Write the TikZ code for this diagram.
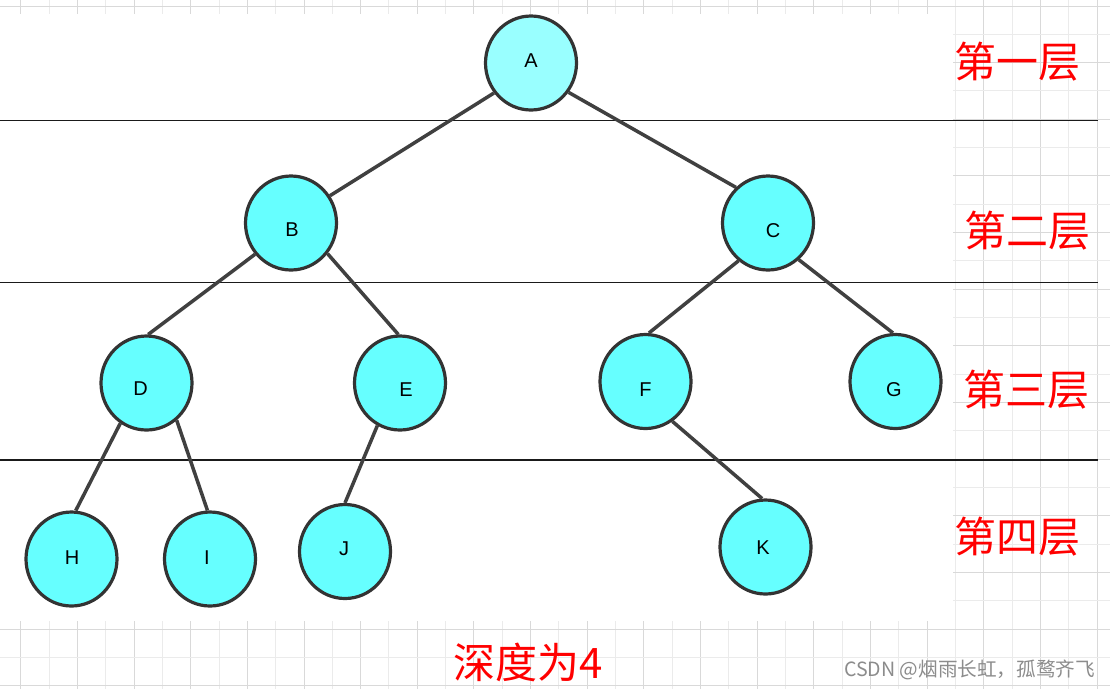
\documentclass[tikz,border=0pt]{standalone}
\usepackage{fontspec}
\setmainfont{Liberation Sans}
\newfontfamily\cjk{Noto Sans CJK SC}
\usetikzlibrary{shapes.geometric}
\definecolor{nodefill}{HTML}{66FFFF}
\definecolor{rootfill}{HTML}{99FFFF}
\definecolor{nodeline}{HTML}{333333}
\definecolor{edgecol}{HTML}{404040}
\definecolor{gridmajor}{HTML}{D9D9D9}
\definecolor{gridminor}{HTML}{EBEBEB}
\definecolor{levelcol}{HTML}{1A1A1A}
\definecolor{wmgray}{HTML}{8C8C8C}
\begin{document}
\begin{tikzpicture}[x=1pt,y=-1pt,
  treenode/.style={ellipse, draw=nodeline, line width=3.2pt, fill=nodefill,
    minimum width=91pt, minimum height=94pt, inner sep=0pt},
  rootnode/.style={treenode, fill=rootfill},
  letter/.style={font=\fontsize{20}{20}\selectfont, text=black, inner sep=0pt},
  edge/.style={draw=edgecol, line width=3.5pt},
  levelline/.style={draw=levelcol, line width=1.1pt},
  levellabel/.style={text=red, font=\cjk\fontsize{42}{42}\selectfont, inner sep=0pt},
  watermark/.style={text=wmgray, font=\cjk\fontsize{19.6}{19.6}\selectfont, inner sep=0pt}
]
\useasboundingbox (0,0) rectangle (1110,689);
\fill[white] (0,0) rectangle (1110,689);
% grid paper
\foreach \k in {0,...,38}{
  \pgfmathsetmacro\gx{20.7+28.33*\k}
  \ifodd\k\def\gc{gridminor}\else\def\gc{gridmajor}\fi
  \draw[color=\gc, line width=1pt] (\gx,0) -- (\gx,689);
}
\foreach \k in {0,...,24}{
  \pgfmathsetmacro\gy{6+28.33*\k}
  \ifodd\k\def\gc{gridminor}\else\def\gc{gridmajor}\fi
  \draw[color=\gc, line width=1pt] (0,\gy) -- (1110,\gy);
}
% white picture area
\fill[white] (0,14) rectangle (953,621);
% level separators
\draw[levelline] (0,120.5) -- (1098,120.5);
\draw[levelline] (0,282.5) -- (1098,282.5);
\draw[levelline] (0,460) -- (1098,460);
% nodes
\node[rootnode, label={[letter, shift={(0,-2)}]center:A}] (A) at (531,63) {};
\node[treenode, label={[letter, shift={(1,7)}]center:B}] (B) at (291,223) {};
\node[treenode, label={[letter, shift={(5,8)}]center:C}] (C) at (768,223) {};
\node[treenode, label={[letter, shift={(-6,6)}]center:D}] (D) at (146.5,383) {};
\node[treenode, label={[letter, shift={(6,7)}]center:E}] (E) at (400,383) {};
\node[treenode, label={[letter, shift={(0,8.5)}]center:F}] (F) at (645.5,381.5) {};
\node[treenode, label={[letter, shift={(-1.5,8.5)}]center:G}] (G) at (895.5,381.5) {};
\node[treenode, label={[letter, shift={(0.5,-1)}]center:H}] (H) at (71.5,559) {};
\node[treenode, label={[letter, shift={(-3,-1)}]center:I}] (I) at (210,559) {};
\node[treenode, label={[letter, shift={(-1,-2.5)}]center:J}] (J) at (345,551.5) {};
\node[treenode, label={[letter, shift={(-2.5,1)}]center:K}] (K) at (765.5,547) {};
% edges
\draw[edge] (A.219.7) -- (B.35.7);
\draw[edge] (A.322.7) -- (C.132.3);
\draw[edge] (B.221.6) -- (D.88);
\draw[edge] (B.320.6) -- (E.92.4);
\draw[edge] (C.232.4) -- (F.86.8);
\draw[edge] (C.310.9) -- (G.93);
\draw[edge] (D.237.7) -- (H.85.8);
\draw[edge] (D.309.4) -- (I.93.7);
\draw[edge] (E.242.9) -- (J.90);
\draw[edge] (F.304.1) -- (K.94);
% level labels
\node[levellabel] (L1) at (1017,62) {第一层};
\node[levellabel] (L2) at (1027,231) {第二层};
\node[levellabel] (L3) at (1026,390) {第三层};
\node[levellabel] (L4) at (1017.5,537) {第四层};
\node[levellabel] (depth) at (528,662) {深度为4};
% watermark
\node[watermark, anchor=west] (wm) at (844,670) {CSDN @烟雨长虹，孤鹜齐飞};
\end{tikzpicture}
\end{document}
